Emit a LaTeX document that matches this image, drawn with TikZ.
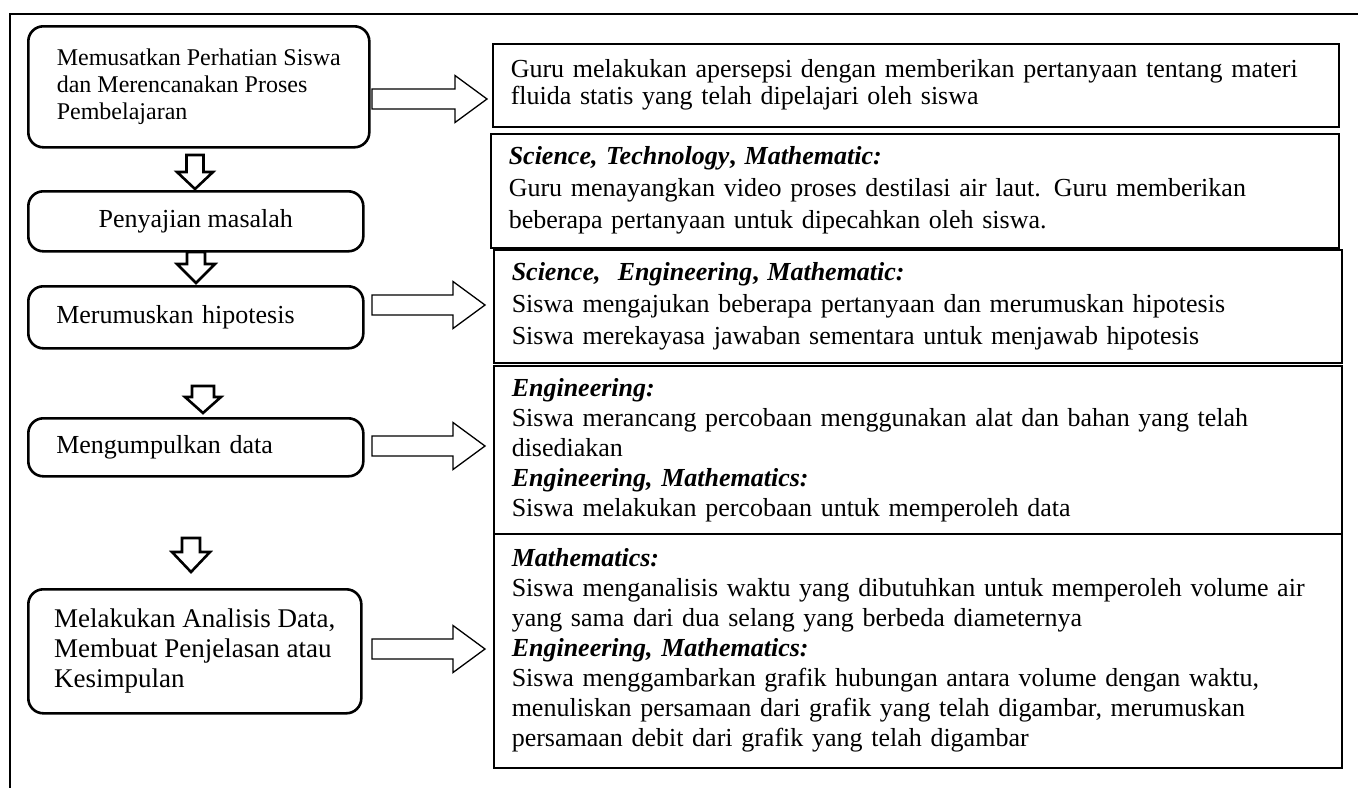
\documentclass[tikz,border=0pt]{standalone}
\usepackage{fontspec}
\setmainfont{Liberation Serif}
\tikzset{
  frame/.style={line width=1.3pt},
  lbox/.style={draw, line width=2.6pt, rounded corners=15pt, anchor=north west, inner sep=0pt, align=left},
  rbox/.style={draw, line width=1.5pt, anchor=north west, inner xsep=18pt, inner ysep=0pt, align=left},
  harrow/.style={draw, line width=1.3pt, miter limit=10},
  varrow/.style={draw, line width=2.6pt, miter limit=10},
}
\newcommand\hblock[3]{\draw[harrow] (#1,#3-10) -- (#2-32,#3-10) -- (#2-32,#3-23.5) -- (#2,#3) -- (#2-32,#3+23.5) -- (#2-32,#3+10) -- (#1,#3+10) -- cycle;}
\newcommand\vblock[6]{\draw[varrow] (#1-#5,#2) -- (#1+#5,#2) -- (#1+#5,#3) -- (#1+#6,#3) -- (#1,#4) -- (#1-#6,#3) -- (#1-#5,#3) -- cycle;}
\begin{document}
\begin{tikzpicture}[x=1pt,y=-1pt]
\useasboundingbox (0,0) rectangle (1358,788);
% outer frame
\coordinate (fTR) at (1358,14);
\coordinate (fTL) at (10,14);
\coordinate (fBL) at (10,788);
\draw[frame] (fTR) -- (fTL) -- (fBL);

% left boxes
\node[lbox, minimum width=341pt, minimum height=121pt, font=\fontsize{24}{27}\selectfont] (L1) at (27,25)
  {Memusatkan Perhatian Siswa\\dan Merencanakan Proses\\Pembelajaran};
\node[lbox, align=center, minimum width=335pt, minimum height=60pt, font=\fontsize{26}{30}\selectfont] (L2) at (27,190)
  {Penyajian masalah};
\node[lbox, inner xsep=28pt, text width=279pt, minimum height=62pt, font=\fontsize{26}{30}\selectfont] (L3) at (27,285)
  {Merumuskan hipotesis};
\node[lbox, inner xsep=28pt, text width=279pt, minimum height=58pt, font=\fontsize{26}{30}\selectfont] (L4) at (27,417)
  {Mengumpulkan data};
\node[lbox, minimum width=333pt, minimum height=124pt, font=\fontsize{27}{30}\selectfont] (L5) at (27,588)
  {Melakukan Analisis Data,\\Membuat Penjelasan atau\\Kesimpulan};

% right boxes
\node[rbox, text width=810pt, minimum height=83pt, font=\fontsize{26}{27}\selectfont] (R1) at (492,43)
  {Guru melakukan apersepsi dengan memberikan pertanyaan tentang materi\\fluida statis yang telah dipelajari oleh siswa};
\node[rbox, text width=812pt, minimum height=114pt, font=\fontsize{26}{32}\selectfont] (R2) at (490,133)
  {\textbf{\textit{Science, Technology}, \textit{Mathematic:}}\\Guru menayangkan video proses destilasi air laut. Guru memberikan\\beberapa pertanyaan untuk dipecahkan oleh siswa.};
\node[rbox, text width=812pt, minimum height=113pt, font=\fontsize{26}{32}\selectfont] (R3) at (493,249)
  {\textbf{\textit{Science,\ \ Engineering}, \textit{Mathematic:}}\\Siswa mengajukan beberapa pertanyaan dan merumuskan hipotesis\\Siswa merekayasa jawaban sementara untuk menjawab hipotesis};
\node[rbox, text width=812pt, minimum height=168pt, font=\fontsize{26}{30}\selectfont] (R4) at (493,365)
  {\textbf{\textit{Engineering:}}\\Siswa merancang percobaan menggunakan alat dan bahan yang telah\\disediakan\\\textbf{\textit{Engineering, Mathematics:}}\\Siswa melakukan percobaan untuk memperoleh data};
\node[rbox, text width=812pt, minimum height=234pt, font=\fontsize{26}{30}\selectfont] (R5) at (493,533)
  {\textbf{\textit{Mathematics:}}\\Siswa menganalisis waktu yang dibutuhkan untuk memperoleh volume air\\yang sama dari dua selang yang berbeda diameternya\\\textbf{\textit{Engineering, Mathematics:}}\\Siswa menggambarkan grafik hubungan antara volume dengan waktu,\\menuliskan persamaan dari grafik yang telah digambar, merumuskan\\persamaan debit dari grafik yang telah digambar};

% horizontal block arrows (L -> R)
\hblock{372}{487}{99}
\hblock{372}{485}{305}
\hblock{372}{485}{446}
\hblock{372}{485}{649}

% vertical block arrows (L -> L)
\vblock{195}{155}{172}{189}{8.5}{18}
\vblock{196}{252}{264}{283}{9}{19}
\vblock{203}{386}{397}{413}{11}{18}
\vblock{191}{538}{552}{572}{9}{19}
\end{tikzpicture}
\end{document}
